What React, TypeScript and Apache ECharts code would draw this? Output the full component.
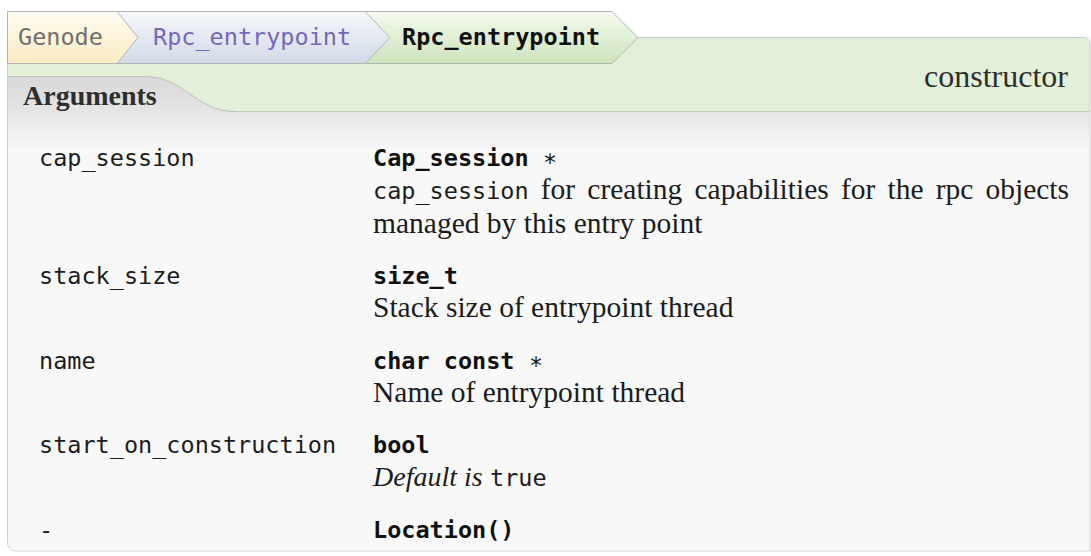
import React, { useEffect, useRef } from "react";
import * as echarts from "echarts";

// ---- content ----
const breadcrumb = ["Genode", "Rpc_entrypoint", "Rpc_entrypoint"];
const kindLabel = "constructor";
const sectionTitle = "Arguments";
const argNames = ["cap_session", "stack_size", "name", "start_on_construction", "-"];
const argTypes = ["Cap_session", "size_t", "char const", "bool", "Location()"];
const argPointer = [true, false, true, false, false];
const argDescs: string[][] = [
  ["`cap_session` for creating capabilities for the rpc objects", "managed by this entry point"],
  ["Stack size of entrypoint thread"],
  ["Name of entrypoint thread"],
  ["*Default is* `true`"],
  [],
];

const MONO = '"DejaVu Sans Mono", monospace';
const SERIF = '"Liberation Serif", serif';
const MS = 23.5;
const SS = 29.5;
const IS = 28;

echarts.graphic.registerShape(
  "argsTabFill",
  echarts.graphic.extendPath("M7.5,76.5 L145,76.5 C185,76.5 195,111.5 235,111.5 L235,113 L7.5,113 Z", {})
);
echarts.graphic.registerShape(
  "argsTabEdge",
  echarts.graphic.extendPath("M7.5,76.5 L145,76.5 C185,76.5 195,111.5 235,111.5", {})
);

let _ctx: CanvasRenderingContext2D | null = null;
function measure(text: string, fam: string, size: number, weight = "normal", style = "normal") {
  if (!_ctx) _ctx = document.createElement("canvas").getContext("2d");
  _ctx!.font = `${style} ${weight} ${size}px ${fam}`;
  return _ctx!.measureText(text).width;
}

type F = { fam: string; size: number; weight?: string; style?: string; color?: string; align?: string };

function txt(x: number, base: number, text: string, o: F) {
  const align = o.align || "left";
  return {
    type: "text",
    x,
    y: base - 0.34 * o.size,
    silent: true,
    style: {
      text,
      fontFamily: o.fam,
      fontSize: o.size,
      fontWeight: o.weight || "normal",
      fontStyle: o.style || "normal",
      fill: o.color || "#1c1c1c",
      align,
      textAlign: align,
      verticalAlign: "middle",
      textVerticalAlign: "middle",
    },
  };
}

function parseSegs(line: string) {
  const out: { kind: string; text: string }[] = [];
  line.split(/(`[^`]+`|\*[^*]+\*)/).forEach((p) => {
    if (!p) return;
    if (p[0] === "`") out.push({ kind: "mono", text: p.slice(1, -1) });
    else if (p[0] === "*") out.push({ kind: "ital", text: p.slice(1, -1) });
    else out.push({ kind: "serif", text: p });
  });
  return out;
}
function fontOf(kind: string): F {
  if (kind === "mono") return { fam: MONO, size: MS };
  if (kind === "ital") return { fam: SERIF, size: IS, style: "italic" };
  return { fam: SERIF, size: SS };
}

function build() {
  const els: any[] = [];
  const X0 = 7.5;
  const XR = 1090;
  // body
  els.push({
    type: "rect",
    shape: { x: X0, y: 111, width: XR - X0, height: 440, r: [0, 0, 0, 8] },
    style: {
      fill: new echarts.graphic.LinearGradient(0, 111, 0, 150, [
        { offset: 0, color: "#e5e5e5" },
        { offset: 1, color: "#f8f8f8" },
      ], true),
      stroke: "#d4d4d4",
      lineWidth: 1,
    },
  });
  // green band
  els.push({
    type: "rect",
    shape: { x: X0, y: 37.5, width: XR - X0, height: 74, r: [0, 6, 0, 0] },
    style: { fill: "#e3f0d9", stroke: "#c6cfbf", lineWidth: 1 },
  });
  // arguments tab
  els.push({
    type: "argsTabFill",
    style: {
      fill: new echarts.graphic.LinearGradient(0, 0, 0, 1, [
        { offset: 0, color: "#d8d8d8" },
        { offset: 1, color: "#e5e5e5" },
      ]),
    },
  });
  els.push({ type: "argsTabEdge", style: { fill: "none", stroke: "#bdbdbd", lineWidth: 1 } });
  els.push({ type: "line", shape: { x1: X0, y1: 11, x2: X0, y2: 540 }, style: { stroke: "#cdcdcd", lineWidth: 1 } });

  // breadcrumb tabs
  const tabs = [
    { left: X0, right: 117, tip: 138, top: "#fffcf2", bot: "#fcebc3" },
    { left: 100, right: 365, tip: 390, top: "#f6f8fb", bot: "#d2dae7" },
    { left: 350, right: 612, tip: 638, top: "#f4faee", bot: "#cde4bc" },
  ];
  for (let i = tabs.length - 1; i >= 0; i--) {
    const t = tabs[i];
    els.push({
      type: "polygon",
      shape: {
        points: [
          [t.left, 11.5],
          [t.right, 11.5],
          [t.tip, 37.5],
          [t.right, 63.5],
          [t.left, 63.5],
        ],
      },
      style: {
        fill: new echarts.graphic.LinearGradient(0, 0, 0, 1, [
          { offset: 0, color: t.top },
          { offset: 1, color: t.bot },
        ]),
        stroke: "#b5b5b5",
        lineWidth: 1,
      },
    });
  }
  const crumbX = [18, 153, 402];
  const crumbColor = ["#6f6f6f", "#7467bd", "#111111"];
  breadcrumb.forEach((b, i) => {
    els.push(txt(crumbX[i], 45, b, { fam: MONO, size: MS, color: crumbColor[i], weight: i === 2 ? "bold" : "normal" }));
  });

  els.push(txt(1068, 87, kindLabel, { fam: SERIF, size: 32, color: "#2e2e2e", align: "right" }));
  els.push(txt(23, 105.5, sectionTitle, { fam: SERIF, size: 28, weight: "bold", color: "#2e2e2e" }));

  // rows
  const NAME_X = 39;
  const TYPE_X = 373;
  const RIGHT = 1069;
  const LINE_H = 33.3;
  const ROW_GAP = 18;
  let base = 166;
  argNames.forEach((name, i) => {
    els.push(txt(NAME_X, base, name, { fam: MONO, size: MS, color: "#1c1c1c" }));
    els.push(txt(TYPE_X, base, argTypes[i], { fam: MONO, size: MS, weight: "bold", color: "#111111" }));
    if (argPointer[i]) {
      const w = measure(argTypes[i] + " ", MONO, MS, "bold");
      els.push(txt(TYPE_X + w, base, "\u2217", { fam: MONO, size: MS, color: "#1c1c1c" }));
    }
    const lines = argDescs[i];
    lines.forEach((line, li) => {
      const b = base + LINE_H * (li + 1);
      const segs = parseSegs(line);
      const justify = li < lines.length - 1;
      if (justify) {
        const toks: { kind: string; text: string }[] = [];
        segs.forEach((s) => s.text.split(" ").filter(Boolean).forEach((w) => toks.push({ kind: s.kind, text: w })));
        const widths = toks.map((t) => {
          const f = fontOf(t.kind);
          return measure(t.text, f.fam, f.size, f.weight || "normal", f.style || "normal");
        });
        const sum = widths.reduce((a, c) => a + c, 0);
        const gap = (RIGHT - TYPE_X - sum) / (toks.length - 1);
        let x = TYPE_X;
        toks.forEach((t, k) => {
          els.push(txt(x, b, t.text, { ...fontOf(t.kind), color: "#1c1c1c" }));
          x += widths[k] + gap;
        });
      } else {
        let x = TYPE_X;
        segs.forEach((s) => {
          const f = fontOf(s.kind);
          els.push(txt(x, b, s.text, { ...f, color: "#1c1c1c" }));
          x += measure(s.text, f.fam, f.size, f.weight || "normal", f.style || "normal");
        });
      }
    });
    base += LINE_H * (lines.length + 1) + ROW_GAP;
  });
  return els;
}

export default function App() {
  const ref = useRef<HTMLDivElement>(null);
  useEffect(() => {
    if (!ref.current) return;
    const chart = echarts.init(ref.current, null, { renderer: "svg" });
    chart.setOption({
      animation: false,
      backgroundColor: "#ffffff",
      graphic: { elements: build() },
    });
    return () => chart.dispose();
  }, []);
  return (
    <div
      ref={ref}
      style={{ position: "fixed", left: 0, top: 0, width: 1091, height: 556, background: "#fff" }}
    />
  );
}
